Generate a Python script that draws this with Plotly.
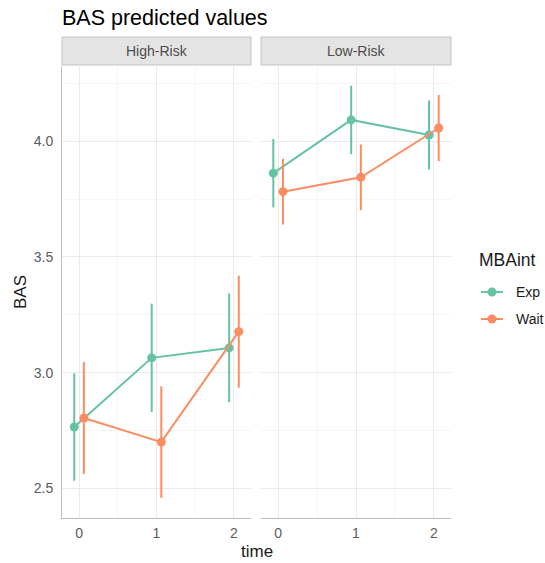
import plotly.graph_objects as go

# ---- data ----
time = [0, 1, 2]
groups = ["Exp", "Wait"]
panels = ["High-Risk", "Low-Risk"]

high_exp = [2.765, 3.064, 3.107]
high_exp_se = [0.232, 0.234, 0.235]
high_wait = [2.804, 2.700, 3.177]
high_wait_se = [0.242, 0.241, 0.242]

low_exp = [3.862, 4.092, 4.027]
low_exp_se = [0.148, 0.148, 0.149]
low_wait = [3.782, 3.844, 4.057]
low_wait_se = [0.142, 0.142, 0.143]

colors = {"Exp": "#66c2a5", "Wait": "#fc8d62"}
dodge = {"Exp": -0.062, "Wait": 0.062}

W, H = 545, 563
FONT = "Liberation Sans, Arial, sans-serif"

fig = go.Figure()

series = {
    ("High-Risk", "Exp"): (high_exp, high_exp_se),
    ("High-Risk", "Wait"): (high_wait, high_wait_se),
    ("Low-Risk", "Exp"): (low_exp, low_exp_se),
    ("Low-Risk", "Wait"): (low_wait, low_wait_se),
}

for pi, panel in enumerate(panels):
    xa = "x" if pi == 0 else "x2"
    ya = "y" if pi == 0 else "y2"
    for g in groups:
        vals, se = series[(panel, g)]
        fig.add_trace(go.Scatter(
            x=[t + dodge[g] for t in time], y=vals,
            mode="lines+markers",
            line=dict(color=colors[g], width=2),
            marker=dict(color=colors[g], size=9),
            error_y=dict(type="data", array=se, color=colors[g], thickness=2, width=0),
            name=g, showlegend=False,
            xaxis=xa, yaxis=ya,
        ))

px_left1, px_right1 = 62, 251
px_left2, px_right2 = 261, 451
px_top, px_bot = 66, 518

grid = "#ebebeb"
minor_grid = "#f6f6f6"
axline = "#bdbdbd"
tickc = "#5c5c5c"

xcommon = dict(range=[-0.22, 2.22], tickvals=time, ticktext=[str(t) for t in time],
               showgrid=True, gridcolor=grid, gridwidth=1,
               minor=dict(dtick=0.5, tick0=0, showgrid=True, gridcolor=minor_grid, gridwidth=1),
               showline=True, linecolor=axline, linewidth=1, zeroline=False,
               ticks="", tickfont=dict(size=14, color=tickc, family=FONT),
               ticklabelstandoff=2, fixedrange=True)
ycommon = dict(range=[2.372, 4.325], tickvals=[2.5, 3.0, 3.5, 4.0],
               ticktext=["2.5", "3.0", "3.5", "4.0"],
               showgrid=True, gridcolor=grid, gridwidth=1,
               minor=dict(dtick=0.25, tick0=2.5, showgrid=True, gridcolor=minor_grid, gridwidth=1),
               zeroline=False, ticks="", tickfont=dict(size=14, color=tickc, family=FONT),
               domain=[1 - px_bot / H, 1 - px_top / H], fixedrange=True)

fig.update_layout(
    width=W, height=H, autosize=False,
    margin=dict(l=0, r=0, t=0, b=0),
    paper_bgcolor="white", plot_bgcolor="white",
    font=dict(family=FONT, color="#000000"),
    xaxis=dict(xcommon, domain=[px_left1 / W, px_right1 / W], anchor="y"),
    xaxis2=dict(xcommon, domain=[px_left2 / W, px_right2 / W], anchor="y2"),
    yaxis=dict(ycommon, anchor="x", showline=True, linecolor=axline, linewidth=1,
               ticklabelstandoff=5),
    yaxis2=dict(ycommon, anchor="x2", matches="y", showticklabels=False, showline=False),
    showlegend=False,
)

# legend (drawn as keys in paper space)
fig.add_annotation(xref="paper", yref="paper", x=477 / W, y=1 - 260 / H,
                   text="MBAint", showarrow=False,
                   font=dict(size=17.5, color="#1a1a1a", family=FONT),
                   xanchor="left", yanchor="middle")
key_y = {"Exp": 292, "Wait": 319}
for g in groups:
    yy = 1 - key_y[g] / H
    fig.add_shape(type="line", xref="paper", yref="paper",
                  x0=481 / W, x1=503 / W, y0=yy, y1=yy,
                  line=dict(color=colors[g], width=2))
    fig.add_shape(type="circle", xref="paper", yref="paper",
                  x0=(492 - 4.5) / W, x1=(492 + 4.5) / W,
                  y0=yy - 4.5 / H, y1=yy + 4.5 / H,
                  fillcolor=colors[g], line=dict(color=colors[g], width=0))
    fig.add_annotation(xref="paper", yref="paper", x=514 / W, y=yy,
                       text=g, showarrow=False,
                       font=dict(size=14, color="#1a1a1a", family=FONT),
                       xanchor="left", yanchor="middle")

# strips
strip_top, strip_bot = 37, 65
for (l, r), name in zip([(px_left1, px_right1), (px_left2, px_right2)], panels):
    fig.add_shape(type="rect", xref="paper", yref="paper",
                  x0=l / W, x1=r / W, y0=1 - strip_bot / H, y1=1 - strip_top / H,
                  fillcolor="#e4e4e4", line=dict(color="#c4c4c4", width=1))
    fig.add_annotation(xref="paper", yref="paper", x=(l + r) / 2 / W,
                       y=1 - (strip_top + strip_bot) / 2 / H, text=name, showarrow=False,
                       font=dict(size=14, color="#4d4d4d", family=FONT),
                       xanchor="center", yanchor="middle")

# title and axis titles
fig.add_annotation(xref="paper", yref="paper", x=60 / W, y=1 - 18 / H,
                   text="BAS predicted values", showarrow=False,
                   font=dict(size=21.5, color="#000000", family=FONT),
                   xanchor="left", yanchor="middle")
fig.add_annotation(xref="paper", yref="paper", x=(px_left1 + px_right2) / 2 / W,
                   y=1 - 551 / H, text="time", showarrow=False,
                   font=dict(size=17, color="#1a1a1a", family=FONT),
                   xanchor="center", yanchor="middle")
fig.add_annotation(xref="paper", yref="paper", x=20 / W,
                   y=1 - (px_top + px_bot) / 2 / H, text="BAS", showarrow=False,
                   textangle=-90, font=dict(size=17, color="#1a1a1a", family=FONT),
                   xanchor="center", yanchor="middle")

fig.write_html("out.html", config={"displayModeBar": False},
               post_script="document.body.style.margin='0';document.body.style.overflow='hidden';")
